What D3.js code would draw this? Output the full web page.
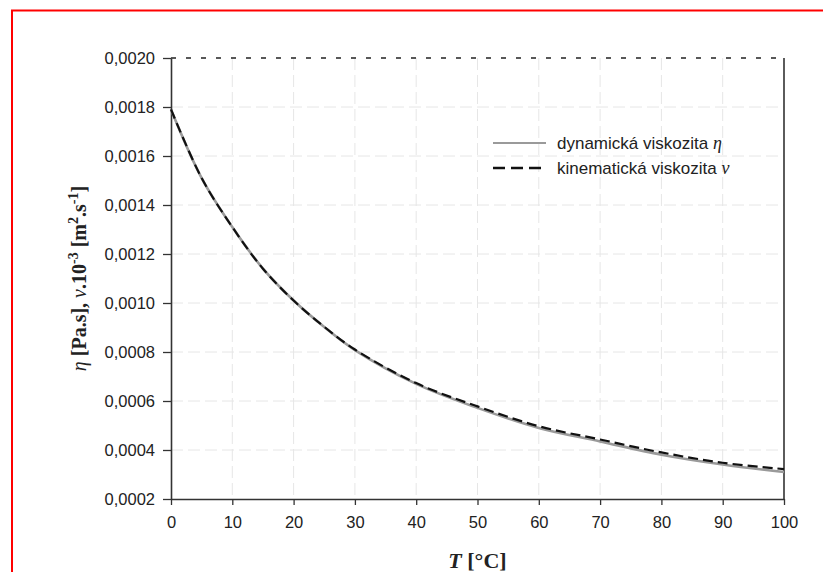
<!DOCTYPE html>
<html>
<head>
<meta charset="utf-8">
<script src="https://cdn.jsdelivr.net/npm/d3@7"></script>
<style>
  body { margin: 0; background: #fff; }
  svg { display: block; }
</style>
</head>
<body>
<svg id="chart" width="823" height="572"></svg>
<script>
// temperature [°C]
var temps = [0, 5, 10, 15, 20, 25, 30, 40, 50, 60, 70, 80, 90, 100];
// dynamic viscosity eta [Pa.s]
var etaValues = [0.00179, 0.00151, 0.00131, 0.00114, 0.00101, 0.000902, 0.000808, 0.00067, 0.000572, 0.00049, 0.000435, 0.000381, 0.000341, 0.00031];
// kinematic viscosity nu * 10^3 [m2/s]
var nuValues = [0.00179, 0.00151, 0.00131, 0.00114, 0.00101, 0.000903, 0.00081, 0.000673, 0.000578, 0.000497, 0.000443, 0.00039, 0.000348, 0.000322];
var xTicks = [0, 10, 20, 30, 40, 50, 60, 70, 80, 90, 100];
var yTicks = [0.0002, 0.0004, 0.0006, 0.0008, 0.0010, 0.0012, 0.0014, 0.0016, 0.0018, 0.0020];
var legendLabels = ["dynamická viskozita ", "kinematická viskozita "];
var legendSymbols = ["η", "ν"];

// plot edges (avoid the name "top", which is window.top)
var pLeft = 171, pRight = 784, pTop = 58, pBottom = 499;
var svg = d3.select("#chart");

svg.append("rect").attr("width", 823).attr("height", 572).attr("fill", "#fff");
// red frame, cut off at right and bottom
svg.append("rect").attr("x", 12).attr("y", 10.5).attr("width", 830).attr("height", 580)
    .attr("fill", "none").attr("stroke", "#ff0000").attr("stroke-width", 2);

var x = d3.scaleLinear().domain([0, 100]).range([pLeft, pRight]);
var y = d3.scaleLinear().domain([0.0002, 0.0020]).range([pBottom, pTop]);

// grid
svg.append("g").selectAll("line").data(xTicks.slice(1, -1)).enter().append("line")
    .attr("x1", d => x(d)).attr("x2", d => x(d)).attr("y1", pTop).attr("y2", pBottom)
    .attr("stroke", "#e6e6e6").attr("stroke-width", 1).attr("stroke-dasharray", "12,5");
svg.append("g").selectAll("line").data(yTicks.slice(1, -1)).enter().append("line")
    .attr("x1", pLeft).attr("x2", pRight).attr("y1", d => y(d)).attr("y2", d => y(d))
    .attr("stroke", "#e6e6e6").attr("stroke-width", 1).attr("stroke-dasharray", "12,5");

// top dashed and right solid border
svg.append("line").attr("x1", pLeft).attr("x2", pRight).attr("y1", pTop).attr("y2", pTop)
    .attr("stroke", "#222").attr("stroke-width", 1.5).attr("stroke-dasharray", "5,10");
svg.append("line").attr("x1", pRight).attr("x2", pRight).attr("y1", pTop).attr("y2", pBottom)
    .attr("stroke", "#333").attr("stroke-width", 1.6);

// axes
var xAxis = svg.append("g").attr("transform", "translate(0," + pBottom + ")")
    .call(d3.axisBottom(x).tickValues(xTicks).tickSize(6).tickSizeOuter(0).tickPadding(11));
var yAxis = svg.append("g").attr("transform", "translate(" + pLeft + ",0)")
    .call(d3.axisLeft(y).tickValues(yTicks).tickSize(8).tickSizeOuter(0).tickPadding(8)
        .tickFormat(d => d.toFixed(4).replace(".", ",")));
[xAxis, yAxis].forEach(function(a) {
    a.select(".domain").attr("stroke", "#333").attr("stroke-width", 1.6);
    a.selectAll(".tick line").attr("stroke", "#333").attr("stroke-width", 1.3);
    a.selectAll(".tick text").attr("fill", "#222")
        .style("font-family", "'Liberation Sans', Arial, sans-serif").style("font-size", "16.5px");
});

// curves
var lineGen = d3.line().x((d, i) => x(temps[i])).y(d => y(d)).curve(d3.curveCatmullRom);
svg.append("path").datum(etaValues).attr("d", lineGen)
    .attr("fill", "none").attr("stroke", "#9a9a9a").attr("stroke-width", 2.6);
svg.append("path").datum(nuValues).attr("d", lineGen)
    .attr("fill", "none").attr("stroke", "#111").attr("stroke-width", 2.2).attr("stroke-dasharray", "10,5");

// legend
var legend = svg.append("g");
legendLabels.forEach(function(lbl, i) {
    var ly = 143 + i * 25;
    legend.append("line").attr("x1", 493).attr("x2", 546).attr("y1", ly).attr("y2", ly)
        .attr("stroke", i == 0 ? "#9a9a9a" : "#111").attr("stroke-width", i == 0 ? 2 : 2.4)
        .attr("stroke-dasharray", i == 0 ? null : "12,6");
    var t = legend.append("text").attr("x", 557).attr("y", ly + 6)
        .style("font-family", "'Liberation Sans', Arial, sans-serif").style("font-size", "17px").attr("fill", "#222");
    t.append("tspan").text(lbl);
    t.append("tspan").text(legendSymbols[i])
        .style("font-family", "'Liberation Serif', 'Times New Roman', serif").style("font-style", "italic").style("font-size", "18px");
});

// axis titles
var xt = svg.append("text").attr("x", (pLeft + pRight) / 2).attr("y", 568).attr("text-anchor", "middle")
    .style("font-family", "'Liberation Serif', 'Times New Roman', serif").style("font-size", "22px")
    .style("font-weight", "bold").attr("fill", "#222");
xt.append("tspan").text("T").style("font-style", "italic");
xt.append("tspan").text(" [°C]");

var yt = svg.append("text").attr("transform", "translate(86," + ((pTop + pBottom) / 2) + ") rotate(-90)")
    .attr("text-anchor", "middle")
    .style("font-family", "'Liberation Serif', 'Times New Roman', serif").style("font-size", "20px")
    .style("font-weight", "bold").attr("fill", "#222");
yt.append("tspan").text("η").style("font-style", "italic").style("font-weight", "normal");
yt.append("tspan").text(" [Pa.s],  ");
yt.append("tspan").text("ν").style("font-style", "italic").style("font-weight", "normal");
yt.append("tspan").text(".10");
yt.append("tspan").text("-3").attr("dy", -8).style("font-size", "14px");
yt.append("tspan").text(" [m").attr("dy", 8);
yt.append("tspan").text("2").attr("dy", -8).style("font-size", "14px");
yt.append("tspan").text(".s").attr("dy", 8);
yt.append("tspan").text("-1").attr("dy", -8).style("font-size", "14px");
yt.append("tspan").text("]").attr("dy", 8);
</script>
</body>
</html>
